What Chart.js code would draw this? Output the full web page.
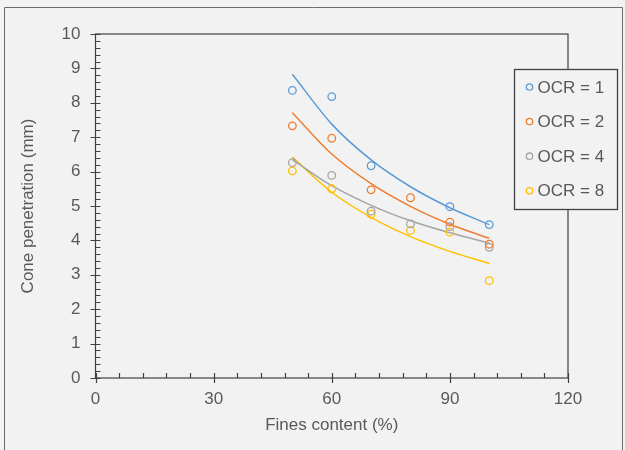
<!DOCTYPE html>
<html>
<head>
<meta charset="utf-8">
<script src="https://cdn.jsdelivr.net/npm/chart.js@4/dist/chart.umd.min.js"></script>
<style>
  html, body { margin: 0; padding: 0; background: #f2f2f2; }
  #wrap { position: relative; width: 625px; height: 450px; }
</style>
</head>
<body>
<div id="wrap"><canvas id="c" width="625" height="450"></canvas></div>
<script>
// ---- data ----
const seriesLabels = ['OCR = 1', 'OCR = 2', 'OCR = 4', 'OCR = 8'];
const seriesColors = ['#5b9bd5', '#ed7d31', '#a5a5a5', '#ffc000'];

const finesOCR1 = [50, 60, 70, 90, 100];
const penOCR1   = [8.36, 8.18, 6.17, 4.98, 4.46];

const finesOther = [50, 60, 70, 80, 90, 100];
const penOCR2   = [7.33, 6.97, 5.47, 5.24, 4.53, 3.89];
const penOCR4   = [6.26, 5.89, 4.85, 4.48, 4.40, 3.80];
const penOCR8   = [6.02, 5.50, 4.76, 4.29, 4.24, 2.83];

// trend curves
const trendX     = [50, 60, 70, 80, 90, 100];
const trendOCR1  = [8.83, 7.38, 6.34, 5.56, 4.95, 4.46];
const trendOCR2  = [7.71, 6.51, 5.65, 4.99, 4.47, 4.06];
const trendOCR4  = [6.35, 5.59, 5.02, 4.57, 4.22, 3.92];
const trendOCR8  = [6.42, 5.40, 4.67, 4.11, 3.68, 3.33];

const xTickLabels = [0, 30, 60, 90, 120];
const yTickLabels = [0, 1, 2, 3, 4, 5, 6, 7, 8, 9, 10];

const xTitle = 'Fines content (%)';
const yTitle = 'Cone penetration (mm)';

// ---- build datasets ----
const pts = (xs, ys) => xs.map((x, i) => ({x: x, y: ys[i]}));
const scatterX = [finesOCR1, finesOther, finesOther, finesOther];
const scatterY = [penOCR1, penOCR2, penOCR4, penOCR8];
const trendY = [trendOCR1, trendOCR2, trendOCR4, trendOCR8];

const datasets = [];
for (let i = 0; i < 4; i++) {
  datasets.push({
    label: seriesLabels[i],
    data: pts(scatterX[i], scatterY[i]),
    showLine: false,
    pointStyle: 'circle',
    pointRadius: 3.8,
    pointBorderWidth: 1.3,
    pointBorderColor: seriesColors[i],
    pointBackgroundColor: 'rgba(0,0,0,0)',
    borderColor: seriesColors[i],
    backgroundColor: 'rgba(0,0,0,0)',
    isLegend: true,
    order: 1
  });
}
for (let i = 0; i < 4; i++) {
  datasets.push({
    label: seriesLabels[i] + ' trend',
    data: pts(trendX, trendY[i]),
    showLine: true,
    pointRadius: 0,
    borderWidth: 1.5,
    borderColor: seriesColors[i],
    backgroundColor: seriesColors[i],
    cubicInterpolationMode: 'monotone',
    fill: false,
    isLegend: false,
    order: 2
  });
}

const FONT = "'Liberation Sans', Arial, sans-serif";
const TXT = '#595959';
const LINE = '#404040';

const decor = {
  id: 'decor',
  beforeDraw(chart) {
    const ctx = chart.ctx;
    ctx.save();
    ctx.fillStyle = '#f2f2f2';
    ctx.fillRect(0, 0, chart.width, chart.height);
    ctx.strokeStyle = '#6b6b6b';
    ctx.lineWidth = 1;
    ctx.beginPath();
    ctx.moveTo(4.5, 460); ctx.lineTo(4.5, 7.5); ctx.lineTo(622.5, 7.5); ctx.lineTo(622.5, 460);
    ctx.stroke();
    ctx.restore();
  },
  afterDraw(chart) {
    const ctx = chart.ctx;
    const a = chart.chartArea;
    const xs = chart.scales.x, ys = chart.scales.y;
    ctx.save();
    ctx.strokeStyle = LINE;
    ctx.lineWidth = 1.2;
    ctx.strokeRect(a.left, a.top, a.right - a.left, a.bottom - a.top);
    ctx.beginPath();
    // x ticks
    for (let v = 0; v <= 120; v += 6) {
      const px = Math.round(xs.getPixelForValue(v)) + 0.5;
      if (v % 30 === 0) { ctx.moveTo(px, a.bottom - 5); ctx.lineTo(px, a.bottom + 5); }
      else { ctx.moveTo(px, a.bottom - 5); ctx.lineTo(px, a.bottom); }
    }
    // y ticks
    for (let k = 0; k <= 50; k++) {
      const v = k / 5;
      const py = Math.round(ys.getPixelForValue(v)) + 0.5;
      if (k % 5 === 0) { ctx.moveTo(a.left - 5, py); ctx.lineTo(a.left + 5, py); }
      else { ctx.moveTo(a.left, py); ctx.lineTo(a.left + 5, py); }
    }
    ctx.stroke();

    // legend
    const bx = 514.5, by = 69.5, bw = 103, bh = 140;
    ctx.fillStyle = '#f2f2f2';
    ctx.fillRect(bx, by, bw, bh);
    ctx.strokeStyle = LINE;
    ctx.lineWidth = 1.3;
    ctx.strokeRect(bx, by, bw, bh);
    ctx.font = '17px ' + FONT;
    ctx.textBaseline = 'middle';
    ctx.textAlign = 'left';
    let n = 0;
    chart.data.datasets.forEach(ds => {
      if (!ds.isLegend) return;
      const cy = 87 + n * 34.6;
      ctx.beginPath();
      ctx.arc(529.5, cy, 3.2, 0, Math.PI * 2);
      ctx.strokeStyle = ds.borderColor;
      ctx.lineWidth = 1.3;
      ctx.stroke();
      ctx.fillStyle = TXT;
      ctx.fillText(ds.label, 537.5, cy + 1);
      n++;
    });
    ctx.restore();
  }
};

new Chart(document.getElementById('c'), {
  type: 'scatter',
  data: { datasets: datasets },
  plugins: [decor],
  options: {
    responsive: false,
    animation: false,
    devicePixelRatio: 1,
    layout: { padding: { top: 34, right: 57, bottom: 0, left: 0 } },
    plugins: { legend: { display: false }, tooltip: { enabled: false } },
    scales: {
      x: {
        type: 'linear', min: 0, max: 120,
        afterFit(s) { s.height = 72; },
        afterBuildTicks(s) { s.ticks = xTickLabels.map(v => ({value: v})); },
        grid: { display: false, drawTicks: false, tickLength: 0 },
        border: { display: false },
        ticks: { color: TXT, font: { family: FONT, size: 17 }, padding: 11, maxRotation: 0 },
        title: { display: true, text: xTitle, color: TXT, font: { family: FONT, size: 17 }, padding: { top: 14, bottom: 14 } }
      },
      y: {
        type: 'linear', min: 0, max: 10,
        afterFit(s) { s.width = 95.5; },
        afterBuildTicks(s) { s.ticks = yTickLabels.map(v => ({value: v})); },
        grid: { display: false, drawTicks: false, tickLength: 0 },
        border: { display: false },
        ticks: { color: TXT, font: { family: FONT, size: 17 }, padding: 15 },
        title: { display: true, text: yTitle, color: TXT, font: { family: FONT, size: 17 }, padding: { top: 18, bottom: 18 } }
      }
    }
  }
});
</script>
</body>
</html>
